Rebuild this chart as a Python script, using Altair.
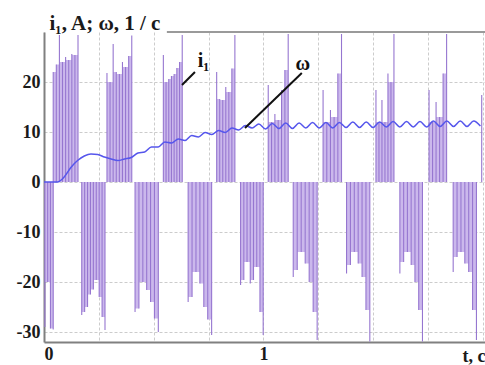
import altair as alt
import pandas as pd
import numpy as np

# ---- current i1: positive bursts (start, end, spike peaks in A) ----
pos_start = [0.042, 0.287, 0.544, 0.787, 1.022, 1.272, 1.513, 1.755, 1.995]
pos_end = [0.155, 0.400, 0.630, 0.870, 1.113, 1.356, 1.595, 1.835, 1.995]
pos_peaks = [
    [22.0, 23.5, 29.4, 24.0, 25.0, 24.4, 25.6, 25.4, 29.4],
    [21.8, 20.0, 27.6, 22.0, 21.6, 24.0, 23.0, 25.2, 29.3],
    [25.4, 20.0, 20.6, 21.2, 21.6, 22.8, 24.0, 29.4],
    [22.0, 16.6, 16.4, 19.0, 18.0, 22.7, 29.4],
    [19.4, 12.0, 13.6, 12.4, 18.4, 22.4, 29.6],
    [18.4, 12.0, 14.4, 13.0, 21.7, 29.6],
    [18.4, 12.0, 16.4, 12.0, 21.7, 20.0, 29.6],
    [18.4, 12.0, 16.0, 13.0, 21.7, 29.6],
    [17.4],
]
# ---- current i1: negative bursts ----
neg_start = [0.004, 0.172, 0.415, 0.657, 0.896, 1.136, 1.379, 1.622, 1.865]
neg_end = [0.042, 0.278, 0.521, 0.764, 0.999, 1.245, 1.485, 1.725, 1.971]
neg_peaks = [
    [-29.0, -20.0, -29.3, -29.5],
    [-26.6, -26.0, -25.0, -22.5, -21.5, -19.6, -23.0, -27.0, -29.6],
    [-26.0, -25.3, -20.0, -21.6, -24.0, -27.3, -30.0],
    [-24.0, -23.0, -18.0, -20.3, -25.0, -27.5, -30.6],
    [-20.6, -19.6, -16.0, -20.3, -19.6, -17.0, -26.0, -30.6],
    [-19.0, -17.6, -14.0, -16.3, -20.0, -26.0, -31.6],
    [-18.3, -16.6, -14.0, -16.3, -19.0, -25.6, -31.9],
    [-18.3, -16.0, -14.0, -16.6, -20.0, -25.6, -31.9],
    [-18.0, -15.0, -14.0, -16.3, -18.0, -25.6, -31.6],
]

# ---- speed omega, sampled every 0.0306 s ----
omega_dt = 0.0306
omega = [0, 0, 0, 1.0, 2.9, 4.3, 5.2, 5.6, 5.5, 5.0, 4.6, 4.3, 4.6, 4.9, 5.8, 6.0,
         7.0, 7.0, 8.0, 7.8, 8.6, 8.3, 9.3, 9.0, 9.9, 9.5, 10.3, 9.9, 10.8, 10.4,
         11.3, 10.8, 11.6, 10.6, 11.7, 10.7, 11.8, 10.7, 11.8, 10.8, 11.9, 10.8,
         11.9, 10.8, 11.9, 10.9, 12.0, 10.9, 12.0, 10.9, 12.0, 11.0, 12.1, 11.0,
         12.1, 11.0, 12.1, 11.0, 12.2, 11.1, 12.2, 11.1, 12.2, 11.1, 12.2, 11.2]

# ---- annotations ----
ann_x = [0.629, 0.916]
ann_y = [19.4, 10.8]
ann_x2 = [0.688, 1.175]
ann_y2 = [22.0, 21.8]
lab_text = ["i\u2081", "\u03c9"]
lab_x = [0.727, 1.18]
lab_y = [23.0, 22.4]
frame_x = [0.56]
frame_x2 = [2.01]
frame_y = [30]

# ---- build tables ----
spk, fil = [], []
for starts, ends, peaks in [(pos_start, pos_end, pos_peaks), (neg_start, neg_end, neg_peaks)]:
    for s, e, p in zip(starts, ends, peaks):
        ts = np.linspace(s, e, len(p)) if len(p) > 1 else [s]
        for t, v in zip(ts, p):
            spk.append({"t": t, "v": v, "z": 0})
        for k in range(len(p) - 1):
            a, b = p[k], p[k + 1]
            m = min(abs(a), abs(b)) * (1 if a > 0 else -1)
            fil.append({"t0": ts[k], "t1": ts[k + 1], "v": m, "z": 0})
spk = pd.DataFrame(spk)
fil = pd.DataFrame(fil)
om = pd.DataFrame({"t": np.arange(len(omega)) * omega_dt, "w": omega})
ann = pd.DataFrame({"x": ann_x, "y": ann_y, "x2": ann_x2, "y2": ann_y2})
lab = pd.DataFrame({"x": lab_x, "y": lab_y, "s": lab_text})
frm = pd.DataFrame({"x": frame_x, "x2": frame_x2, "y": frame_y})

FONT = "Liberation Serif"
xs = alt.Scale(domain=[0, 2.01], nice=False, zero=False)
ys = alt.Scale(domain=[-32, 30], nice=False, zero=False)

xaxis = alt.Axis(
    values=[0, 0.25, 0.5, 0.75, 1, 1.25, 1.5, 1.75, 2.0],
    labelExpr="datum.value == 0 ? '0' : (datum.value == 1 ? '1' : '')",
    grid=True, gridColor="#cccccc", gridDash=[3, 2], gridWidth=1,
    ticks=False, domainColor="#808080", domainWidth=2,
    labelFont=FONT, labelFontSize=18, labelFontWeight="bold", labelColor="#1a1a1a",
    labelPadding=3,
    title="t, c", titleFont=FONT, titleFontSize=18, titleFontWeight="bold",
    titleColor="#1a1a1a", titleX=441, titleY=19, titleAlign="right",
    titleBaseline="alphabetic",
)
yaxis = alt.Axis(
    values=[-30, -25, -20, -15, -10, -5, 0, 5, 10, 15, 20, 25],
    labelExpr="datum.value % 10 == 0 ? toString(datum.value) : ''",
    grid=True, gridColor="#cccccc", gridDash=[3, 2], gridWidth=1,
    ticks=False, domainColor="#808080", domainWidth=2,
    labelFont=FONT, labelFontSize=18, labelFontWeight="bold", labelColor="#1a1a1a",
    labelPadding=4,
    title="i\u2081, A; \u03c9, 1 / c", titleFont=FONT, titleFontSize=21,
    titleFontWeight="bold", titleColor="#1a1a1a", titleAngle=0, titleAlign="left",
    titleBaseline="alphabetic", titleX=5, titleY=-3,
)

fills = alt.Chart(fil).mark_rect(color="#cbb8ec", clip=True).encode(
    x=alt.X("t0:Q", scale=xs, axis=xaxis), x2="t1:Q",
    y=alt.Y("z:Q", scale=ys, axis=yaxis), y2="v:Q",
)
rules = alt.Chart(spk).mark_rule(color="#9676d0", strokeWidth=1.1, clip=True).encode(
    x=alt.X("t:Q", scale=xs), y=alt.Y("z:Q", scale=ys), y2="v:Q"
)
line = alt.Chart(om).mark_line(color="#5656ec", strokeWidth=1.5, interpolate="monotone").encode(
    x=alt.X("t:Q", scale=xs), y=alt.Y("w:Q", scale=ys)
)
frame = alt.Chart(frm).mark_rule(color="#9a9a9a", strokeWidth=2).encode(
    x=alt.X("x:Q", scale=xs), x2="x2:Q", y=alt.Y("y:Q", scale=ys)
)
alines = alt.Chart(ann).mark_rule(color="#111111", strokeWidth=2).encode(
    x=alt.X("x:Q", scale=xs), y=alt.Y("y:Q", scale=ys), x2="x2:Q", y2="y2:Q"
)
alabs = alt.Chart(lab).mark_text(font=FONT, fontSize=20, fontWeight="bold", color="#111111",
                                 baseline="alphabetic", align="center").encode(
    x=alt.X("x:Q", scale=xs), y=alt.Y("y:Q", scale=ys), text="s:N"
)

chart = alt.layer(fills, rules, line, frame, alines, alabs).properties(
    width=441, height=310,
    padding={"left": 44, "top": 32, "right": 0, "bottom": 23},
    autosize=alt.AutoSizeParams(type="none"),
    background="white",
).configure_view(stroke=None)

chart.save("out.html", embed_options={"renderer": "svg", "actions": False})
